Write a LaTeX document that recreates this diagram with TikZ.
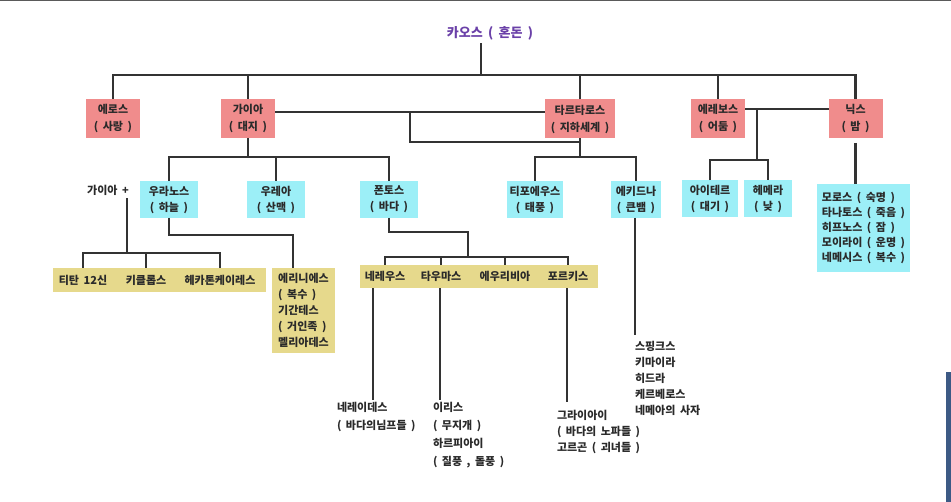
\documentclass[tikz,border=0pt]{standalone}
\usepackage{fontspec}
\setmainfont{Noto Sans CJK KR}[WordSpace=1.8]
\usepackage{tikz}
\usepackage{tkz-graph}
\definecolor{pinkc}{HTML}{F08C8C}
\definecolor{cyanc}{HTML}{9CEFF7}
\definecolor{yellowc}{HTML}{E6D98C}
\definecolor{chaosc}{HTML}{6A40A8}
\definecolor{textc}{HTML}{2A2A2A}
\definecolor{linec}{HTML}{333333}
\definecolor{framec}{HTML}{5A5A5A}
\definecolor{edgec}{HTML}{3D5A85}
\tikzset{
  kin/.style={draw=linec, line width=2.2pt},
  boxtext/.style={font=\fontsize{11pt}{17pt}\selectfont\bfseries, text=textc, align=center},
  pinkbox/.style={boxtext, shape=rectangle, fill=pinkc, minimum width=54pt, minimum height=39pt, inner xsep=6pt, inner ysep=0pt},
  cyanbox/.style={boxtext, shape=rectangle, fill=cyanc, minimum width=#1, minimum height=37pt, inner xsep=1pt, inner ysep=0pt, font=\fontsize{11pt}{16pt}\selectfont\bfseries},
  listbox/.style={cyanbox=93pt, minimum height=88pt, align=left, inner xsep=2pt, font=\fontsize{11pt}{15pt}\selectfont\bfseries},
  yellowband/.style={shape=rectangle, fill=yellowc, inner sep=0pt, minimum width=#1, minimum height=24pt},
  bandname/.style={boxtext, shape=rectangle, inner sep=0pt},
  erinyesbox/.style={boxtext, shape=rectangle, fill=yellowc, align=left, minimum width=63pt, minimum height=85pt, inner xsep=2pt, inner ysep=0pt, font=\fontsize{11pt}{16pt}\selectfont\bfseries},
  freetext/.style={boxtext, shape=rectangle, align=left, anchor=north west, inner sep=0pt, font=\fontsize{11pt}{#1}\selectfont\bfseries},
}
\begin{document}
\begin{tikzpicture}[x=1pt,y=-1pt]
\useasboundingbox (0,0) rectangle (951,502);
\fill[white] (0,0) rectangle (951,502);
\fill[framec] (0,0) rectangle (951,1.5);
\fill[edgec] (946,372) rectangle (951,502);
\GraphInit[vstyle=Normal]
\tikzset{VertexStyle/.style={boxtext, shape=rectangle, font=\fontsize{13pt}{15pt}\selectfont\bfseries, text=chaosc}}
\Vertex[x=490,y=33,L={카오스 ( 혼돈 )}]{chaos}
\tikzset{VertexStyle/.style={pinkbox}}
\Vertex[x=113,y=118.5,L={에로스\\( 사랑 )}]{eros}
\Vertex[x=248,y=118.5,L={가이아\\( 대지 )}]{gaia}
\Vertex[x=580,y=119,L={타르타로스\\( 지하세계 )}]{tartaros}
\Vertex[x=718,y=118.5,L={에레보스\\( 어둠 )}]{erebos}
\Vertex[x=855.5,y=118.5,L={닉스\\( 밤 )}]{nyx}
\tikzset{VertexStyle/.style={cyanbox=58pt}}
\Vertex[x=169,y=199.5,L={우라노스\\( 하늘 )}]{ouranos}
\Vertex[x=276,y=199.5,L={우레아\\( 산맥 )}]{rhea}
\Vertex[x=389,y=199.5,L={폰토스\\( 바다 )}]{pontos}
\tikzset{VertexStyle/.style={cyanbox=56pt}}
\Vertex[x=535,y=199.5,L={티포에우스\\( 태풍 )}]{typhon}
\Vertex[x=710,y=199,L={아이테르\\( 대기 )}]{aither}
\tikzset{VertexStyle/.style={cyanbox=50pt}}
\Vertex[x=636,y=199.5,L={에키드나\\( 큰뱀 )}]{echidna}
\tikzset{VertexStyle/.style={cyanbox=48pt}}
\Vertex[x=768,y=199,L={헤메라\\( 낮 )}]{hemera}
\tikzset{VertexStyle/.style={listbox}}
\Vertex[x=863.5,y=228,L={모로스 ( 숙명 )\\타나토스 ( 죽음 )\\히프노스 ( 잠 )\\모이라이 ( 운명 )\\네메시스 ( 복수 )}]{nyxkids}
\node[yellowband=213pt] (tband) at (159.5,280) {};
\node[yellowband=238pt, minimum height=23pt] (sband) at (479,276.5) {};
\tikzset{VertexStyle/.style={bandname}}
\Vertex[x=108,y=190,L={가이아 +}]{gplus}
\Vertex[x=83,y=280,L={티탄 12신}]{titan}
\Vertex[x=146,y=280,L={키클롭스}]{cyclops}
\Vertex[x=220,y=280,L={헤카톤케이레스}]{hekaton}
\Vertex[x=385,y=276.5,L={네레우스}]{nereus}
\Vertex[x=441,y=276.5,L={타우마스}]{thaumas}
\Vertex[x=505,y=276.5,L={에우리비아}]{eurybia}
\Vertex[x=568,y=276.5,L={포르키스}]{phorkys}
\tikzset{VertexStyle/.style={erinyesbox}}
\Vertex[x=303.5,y=310.5,L={에리니에스\\( 복수 )\\기간테스\\( 거인족 )\\멜리아데스}]{erinyes}
\tikzset{VertexStyle/.style={freetext=18pt}}
\Vertex[x=337,y=402,L={네레이데스\\( 바다의님프들 )}]{nereids}
\Vertex[x=433,y=402,L={이리스\\( 무지개 )\\하르피아이\\( 질풍 , 돌풍 )}]{iris}
\tikzset{VertexStyle/.style={freetext=16pt}}
\Vertex[x=557,y=410,L={그라이아이\\( 바다의 노파들 )\\고르곤 ( 괴녀들 )}]{graiai}
\Vertex[x=635,y=341,L={스핑크스\\키마이라\\히드라\\케르베로스\\네메아의 사자}]{monsters}
\coordinate (bar) at (481,75);
\draw[kin] (bar |- chaos.south) -- (bar);
\draw[kin] (eros.north) |- (bar) -| (nyx.north);
\foreach \g in {gaia,tartaros,erebos}
  \draw[kin] (\g.north) -- (\g.north |- bar);
\coordinate (gtwed) at (410,112);
\coordinate (gtlow) at (580,142);
\coordinate (gtkid) at (580,157);
\draw[kin] (gaia.east |- gtwed) -- (tartaros.west |- gtwed);
\draw[kin] (gtwed) |- (gtlow);
\draw[kin] (tartaros.south) -- (gtkid);
\draw[kin] (typhon.north) |- (gtkid) -| (echidna.north);
\coordinate (enwed) at (757,109);
\coordinate (enkid) at (757,160);
\draw[kin] (erebos.east |- enwed) -- (nyx.west |- enwed);
\draw[kin] (enwed) -- (enkid);
\draw[kin] (aither.north) |- (enkid) -| (hemera.north);
\draw[kin] ([yshift=-5pt]nyx.south) -- (nyx.south |- nyxkids.north);
\coordinate (gkid) at (248,157);
\draw[kin] (gaia.south) -- (gkid);
\draw[kin] (ouranos.north) |- (gkid) -| (pontos.north);
\draw[kin] (rhea.north) -- (rhea.north |- gkid);
\coordinate (tkid) at (127,253);
\draw[kin] ([yshift=-3pt]tkid |- gplus.south) -- (tkid);
\draw[kin] (titan.north |- tband.north) |- (tkid) -| (hekaton.north |- tband.north);
\draw[kin] (cyclops.north |- tband.north) -- (cyclops.north |- tkid);
\coordinate (ubend) at (293,235);
\draw[kin] (ouranos.south) |- (ubend) -- (ubend |- erinyes.north);
\coordinate (pbend) at (468,232);
\coordinate (pkid) at (468,257);
\draw[kin] (pontos.south) |- (pbend) -- (pkid);
\draw[kin] (nereus.north |- sband.north) |- (pkid) -| (phorkys.north |- sband.north);
\foreach \s in {thaumas,eurybia}
  \draw[kin] (\s.north |- sband.north) -- (\s.north |- pkid);
\coordinate (nline) at (373,400);
\coordinate (iline) at (440,400);
\coordinate (pline) at (567,402);
\coordinate (eline) at (635,335);
\draw[kin] (nline |- sband.south) -- (nline);
\draw[kin] (iline |- sband.south) -- (iline);
\draw[kin] (pline |- sband.south) -- (pline);
\draw[kin] (echidna.south -| eline) -- (eline);
\end{tikzpicture}
\end{document}
